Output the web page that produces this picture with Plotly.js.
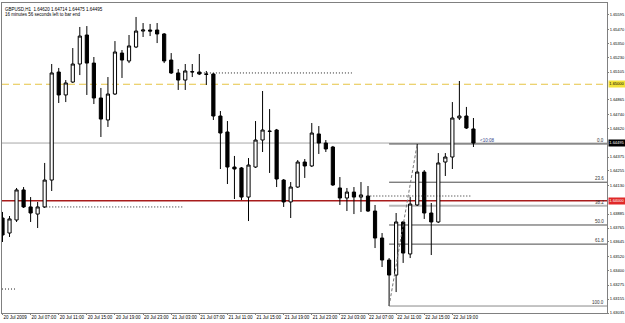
<!DOCTYPE html>
<html>
<head>
<meta charset="utf-8">
<script src="https://cdn.plot.ly/plotly-3.0.1.min.js"></script>
<style>
html,body{margin:0;padding:0;background:#fff;}
#chart{width:625px;height:323px;}
</style>
</head>
<body>
<div id="chart"></div>
<script>
// GBPUSD H1 bars, 20 Jul 2009 03:00 .. 22 Jul 2009 22:00
var barOpen = [
 1.63851,1.63722,1.63834,1.64092,1.63946,1.63885,1.63946,1.64177,1.65105,1.64908,
 1.65019,1.65174,1.65423,1.65182,1.64882,1.64693,1.64916,1.65268,1.65200,1.65320,
 1.65457,1.65466,1.65466,1.65432,1.65208,1.65097,1.65036,1.65105,1.65105,1.65088,
 1.65088,1.64727,1.64590,1.64289,1.64281,1.64031,1.64289,1.64521,1.64598,1.64607,
 1.64177,1.63989,1.64117,1.64332,1.64298,1.64573,1.64495,1.64461,1.64109,1.64023,
 1.64074,1.64031,1.64040,1.63911,1.63679,1.63490,1.63361,1.63817,1.63542,1.63963,
 1.64246,1.63894,1.63817,1.64332,1.64375,1.64710,1.64727,1.64616];
var barHigh = [
 1.63903,1.63868,1.64109,1.64117,1.64031,1.63989,1.64324,1.65174,1.65140,1.65036,
 1.65311,1.65492,1.65500,1.65234,1.64968,1.65062,1.65371,1.65294,1.65423,1.65578,
 1.65526,1.65518,1.65526,1.65440,1.65268,1.65131,1.65174,1.65174,1.65260,1.65114,
 1.65097,1.64770,1.64684,1.64384,1.64289,1.64366,1.64684,1.64942,1.64787,1.64616,
 1.64186,1.64160,1.64349,1.64358,1.64667,1.64641,1.64521,1.64470,1.64203,1.64109,
 1.64117,1.64160,1.64126,1.63963,1.63722,1.63507,1.63894,1.63825,1.64031,1.64487,
 1.64263,1.63980,1.64409,1.64409,1.64847,1.65028,1.64805,1.64710];
var barLow = [
 1.63645,1.63688,1.63817,1.63937,1.63817,1.63765,1.63937,1.64083,1.64839,1.64847,
 1.65011,1.65079,1.64908,1.64830,1.64547,1.64633,1.64908,1.65054,1.65182,1.65311,
 1.65406,1.65414,1.65354,1.65182,1.65088,1.64951,1.64951,1.65062,1.65079,1.64994,
 1.64693,1.64272,1.64143,1.64014,1.64006,1.63825,1.64281,1.64418,1.64238,1.64117,
 1.63946,1.63851,1.64109,1.64195,1.64289,1.64401,1.64418,1.64126,1.63963,1.63911,
 1.63885,1.63903,1.63903,1.63593,1.63430,1.63095,1.63215,1.63465,1.63507,1.63954,
 1.63843,1.63533,1.63808,1.64212,1.64272,1.64693,1.64616,1.64461];
var barClose = [
 1.63705,1.63843,1.64092,1.63946,1.63894,1.63946,1.64177,1.65097,1.64908,1.65011,
 1.65174,1.65414,1.65182,1.64882,1.64701,1.64916,1.65277,1.65208,1.65329,1.65457,
 1.65466,1.65457,1.65432,1.65200,1.65097,1.65036,1.65114,1.65108,1.65088,1.65085,
 1.64727,1.64581,1.64289,1.64272,1.64031,1.64306,1.64521,1.64607,1.64595,1.64186,
 1.63989,1.64117,1.64332,1.64298,1.64581,1.64495,1.64444,1.64135,1.64023,1.64074,
 1.64031,1.64049,1.63911,1.63679,1.63490,1.63361,1.63817,1.63550,1.63971,1.64246,
 1.63894,1.63817,1.64324,1.64375,1.64710,1.64727,1.64624,1.64495];

// time axis labels (bar index -> label)
var timeTickBars = [0,4,8,12,16,20,24,28,32,36,40,44,48,52,56,60,64];
var timeTickLabels = ["20 Jul 2009","20 Jul 07:00","20 Jul 11:00","20 Jul 15:00","20 Jul 19:00",
 "20 Jul 23:00","21 Jul 03:00","21 Jul 07:00","21 Jul 11:00","21 Jul 15:00","21 Jul 19:00",
 "21 Jul 23:00","22 Jul 03:00","22 Jul 07:00","22 Jul 11:00","22 Jul 15:00","22 Jul 19:00"];

// price axis labels
var priceTicks = [1.63035,1.63155,1.63275,1.63400,1.63520,1.63645,1.63765,1.63885,
 1.64130,1.64255,1.64375,1.64620,1.64740,1.64865,1.65105,1.65230,1.65350,1.65470,1.65595];
var priceTickLabels = ["1.63035","1.63155","1.63275","1.63400","1.63520","1.63645","1.63765","1.63885",
 "1.64130","1.64255","1.64375","1.64620","1.64740","1.64865","1.65105","1.65230","1.65350","1.65470","1.65595"];

// horizontal lines
var bidPrice = 1.64495;
var yellowLevel = 1.65000;
var redLevel = 1.64000;

// fibonacci retracement (anchors: bar 55 low -> bar 59 high)
var fibFromBar = 55, fibToBar = 59;
var fibLow = 1.63095, fibHigh = 1.64487;
var fibRatios = [0.0, 23.6, 38.2, 50.0, 61.8, 100.0];
var fibLabels = ["0.0","23.6","38.2","50.0","61.8","100.0"];

// dotted price markers: [price, fromBar, toBar]
var dotPrice = [1.65097, 1.63946, 1.64040, 1.63241];
var dotFrom  = [27.8, 5.8, 51.9, -0.07];
var dotTo    = [49.7, 25.7, 66.8, 1.8];

var headerLine1 = "GBPUSD,H1  1.64620 1.64714 1.64475 1.64495";
var headerLine2 = "16 minutes 56 seconds left to bar end";
var timerText = "<10:08";

var xs = barOpen.map(function(_, i){ return i; });
var xEnd = 86;
var FONT = "Liberation Sans, Arial, sans-serif";

var trace = {
  type: 'candlestick',
  x: xs, open: barOpen, high: barHigh, low: barLow, close: barClose,
  increasing: {line: {color: '#000', width: 1}, fillcolor: '#ffffff'},
  decreasing: {line: {color: '#000', width: 1}, fillcolor: '#000000'},
  whiskerwidth: 0,
  hoverinfo: 'skip'
};

var shapes = [];
shapes.push({type:'line', xref:'paper', yref:'y', x0:0, x1:1, y0:bidPrice, y1:bidPrice,
  line:{color:'#a8a8a8', width:1}, layer:'below'});
shapes.push({type:'line', xref:'paper', yref:'y', x0:0, x1:1, y0:yellowLevel, y1:yellowLevel,
  line:{color:'#e6c443', width:1, dash:'7px,4px'}, layer:'below'});
shapes.push({type:'line', xref:'paper', yref:'y', x0:0, x1:1, y0:redLevel, y1:redLevel,
  line:{color:'#a81c1c', width:1.5}, layer:'below'});

var annotations = [];
var range = fibHigh - fibLow;
fibRatios.forEach(function(r, i){
  var lv = fibHigh - r/100*range;
  var col = (r === 38.2) ? '#b8b8b8' : (r === 100 ? '#8a8a8a' : '#4a4a4a');
  var w = (r === 38.2) ? 2 : 1;
  shapes.push({type:'line', xref:'x', yref:'y', x0:fibFromBar, x1:xEnd, y0:lv, y1:lv,
    line:{color:col, width:w}, layer:'below'});
  annotations.push({xref:'paper', yref:'y', x:1, y:lv, xanchor:'right', yanchor:'bottom',
    xshift:-1, yshift:-1, text:fibLabels[i], showarrow:false,
    font:{family:FONT, size:4.5, color:'#333'}});
});
shapes.push({type:'line', xref:'x', yref:'y', x0:fibFromBar, x1:fibToBar, y0:fibLow, y1:fibHigh,
  line:{color:'#777', width:1, dash:'3px,2px'}, layer:'above'});

dotPrice.forEach(function(p, i){
  shapes.push({type:'line', xref:'x', yref:'y', x0:dotFrom[i], x1:dotTo[i], y0:p, y1:p,
    line:{color:'#222', width:1, dash:'1px,2px'}, layer:'above'});
});

annotations.push({xref:'paper', yref:'paper', x:0.002, y:0.995, xanchor:'left', yanchor:'top',
  text:headerLine1, showarrow:false, font:{family:FONT, size:4.5, color:'#000'}});
annotations.push({xref:'paper', yref:'paper', x:0.002, y:0.978, xanchor:'left', yanchor:'top',
  text:headerLine2, showarrow:false, font:{family:FONT, size:4.5, color:'#000'}});
annotations.push({xref:'x', yref:'y', x:67.6, y:1.64521, xanchor:'left', yanchor:'middle',
  text:timerText, showarrow:false, font:{family:FONT, size:4.5, color:'#334488'}});

// highlighted price labels on the right axis
[[yellowLevel,'1.65000','#f2e23a','#000'],[bidPrice,'1.64495','#000000','#fff'],[redLevel,'1.64000','#e02828','#fff']].forEach(function(a){
  annotations.push({xref:'paper', yref:'y', x:1, y:a[0], xanchor:'left', yanchor:'middle',
    xshift:1, text:a[1], showarrow:false, bgcolor:a[2], borderpad:0.3,
    font:{family:FONT, size:4, color:a[3]}});
});

var layout = {
  width:625, height:323,
  margin:{l:2, r:18, t:3, b:10, pad:0},
  paper_bgcolor:'#fff', plot_bgcolor:'#fff',
  showlegend:false,
  boxgap:0.35,
  xaxis:{range:[-0.07, xEnd], showgrid:false, zeroline:false, showline:true, mirror:true,
    linecolor:'#808080', linewidth:1, tickmode:'array', tickvals:timeTickBars, ticktext:timeTickLabels,
    ticks:'outside', ticklen:1, tickcolor:'#808080', ticklabelposition:'outside right',
    tickangle:0, automargin:false,
    tickfont:{family:FONT, size:4.5, color:'#000'}, rangeslider:{visible:false}, fixedrange:true},
  yaxis:{side:'right', range:[1.63035, 1.65698], showgrid:false, zeroline:false, showline:true, mirror:true,
    linecolor:'#808080', linewidth:1, tickmode:'array', tickvals:priceTicks, ticktext:priceTickLabels,
    ticks:'outside', ticklen:1, tickcolor:'#808080', automargin:false,
    tickfont:{family:FONT, size:4, color:'#000'}, fixedrange:true},
  shapes:shapes,
  annotations:annotations
};

Plotly.newPlot('chart', [trace], layout, {staticPlot:true, displayModeBar:false});
</script>
</body>
</html>
